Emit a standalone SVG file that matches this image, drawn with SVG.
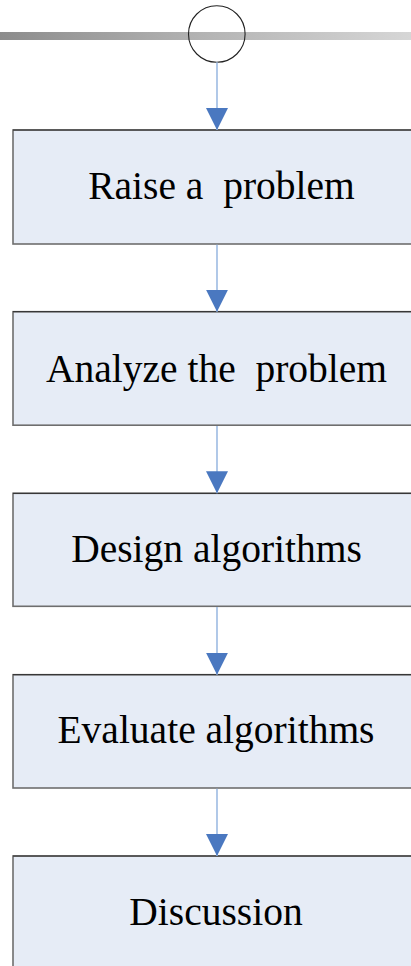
<svg xmlns="http://www.w3.org/2000/svg" width="411" height="966" viewBox="0 0 411 966">
  <defs>
    <linearGradient id="barGrad" x1="0" y1="0" x2="1" y2="0">
      <stop offset="0" stop-color="#8c8c8c"/>
      <stop offset="0.5" stop-color="#b4b4b4"/>
      <stop offset="1" stop-color="#d6d6d6"/>
    </linearGradient>
    <marker id="head" markerUnits="userSpaceOnUse" markerWidth="22" markerHeight="22" viewBox="0 0 22 22" refX="22" refY="11" orient="auto">
      <path d="M0,0 L22,11 L0,22 Z" fill="#4a78c0"/>
    </marker>
  </defs>
  <style>
    .box { fill: #e6ecf6; stroke: #6e6e6e; stroke-width: 1.6; }
    .boxtop { stroke: #2a2a2a; stroke-width: 1; }
    .label { font-family: "Liberation Serif", "Times New Roman", serif; font-size: 39.5px; fill: #000; text-anchor: middle; }
    .link { stroke: #9dbbe3; stroke-width: 1.6; fill: none; }
  </style>
  <rect width="411" height="966" fill="#ffffff"/>

  <!-- header bar with start node -->
  <rect x="0" y="32" width="411" height="8" fill="url(#barGrad)"/>
  <g id="start">
    <circle cx="216.8" cy="34" r="28.3" fill="none" stroke="#222" stroke-width="1.1"/>
  </g>

  <!-- process steps -->
  <g id="raise">
    <rect class="box" x="13" y="130" width="420" height="114"/>
    <line class="boxtop" x1="13" y1="130" x2="411" y2="130"/>
    <text class="label" x="221.5" y="198.5" xml:space="preserve">Raise a  problem</text>
  </g>
  <g id="analyze">
    <rect class="box" x="13" y="311.7" width="420" height="113.5"/>
    <line class="boxtop" x1="13" y1="311.7" x2="411" y2="311.7"/>
    <text class="label" x="216.5" y="381.5" xml:space="preserve">Analyze the  problem</text>
  </g>
  <g id="design">
    <rect class="box" x="13" y="493.3" width="420" height="113"/>
    <line class="boxtop" x1="13" y1="493.3" x2="411" y2="493.3"/>
    <text class="label" x="216.5" y="562">Design algorithms</text>
  </g>
  <g id="evaluate">
    <rect class="box" x="13" y="674.7" width="420" height="113.3"/>
    <line class="boxtop" x1="13" y1="674.7" x2="411" y2="674.7"/>
    <text class="label" x="216" y="743">Evaluate algorithms</text>
  </g>
  <g id="discussion">
    <rect class="box" x="13" y="856" width="420" height="140"/>
    <line class="boxtop" x1="13" y1="856" x2="411" y2="856"/>
    <text class="label" x="216" y="925">Discussion</text>
  </g>

  <!-- connectors -->
  <g id="connectors">
    <line class="link" x1="217" y1="62.3" x2="217" y2="130" marker-end="url(#head)"/>
    <line class="link" x1="217" y1="244.8" x2="217" y2="311.7" marker-end="url(#head)"/>
    <line class="link" x1="217" y1="426" x2="217" y2="493.3" marker-end="url(#head)"/>
    <line class="link" x1="217" y1="607" x2="217" y2="674.7" marker-end="url(#head)"/>
    <line class="link" x1="217" y1="788.8" x2="217" y2="856" marker-end="url(#head)"/>
  </g>
</svg>
